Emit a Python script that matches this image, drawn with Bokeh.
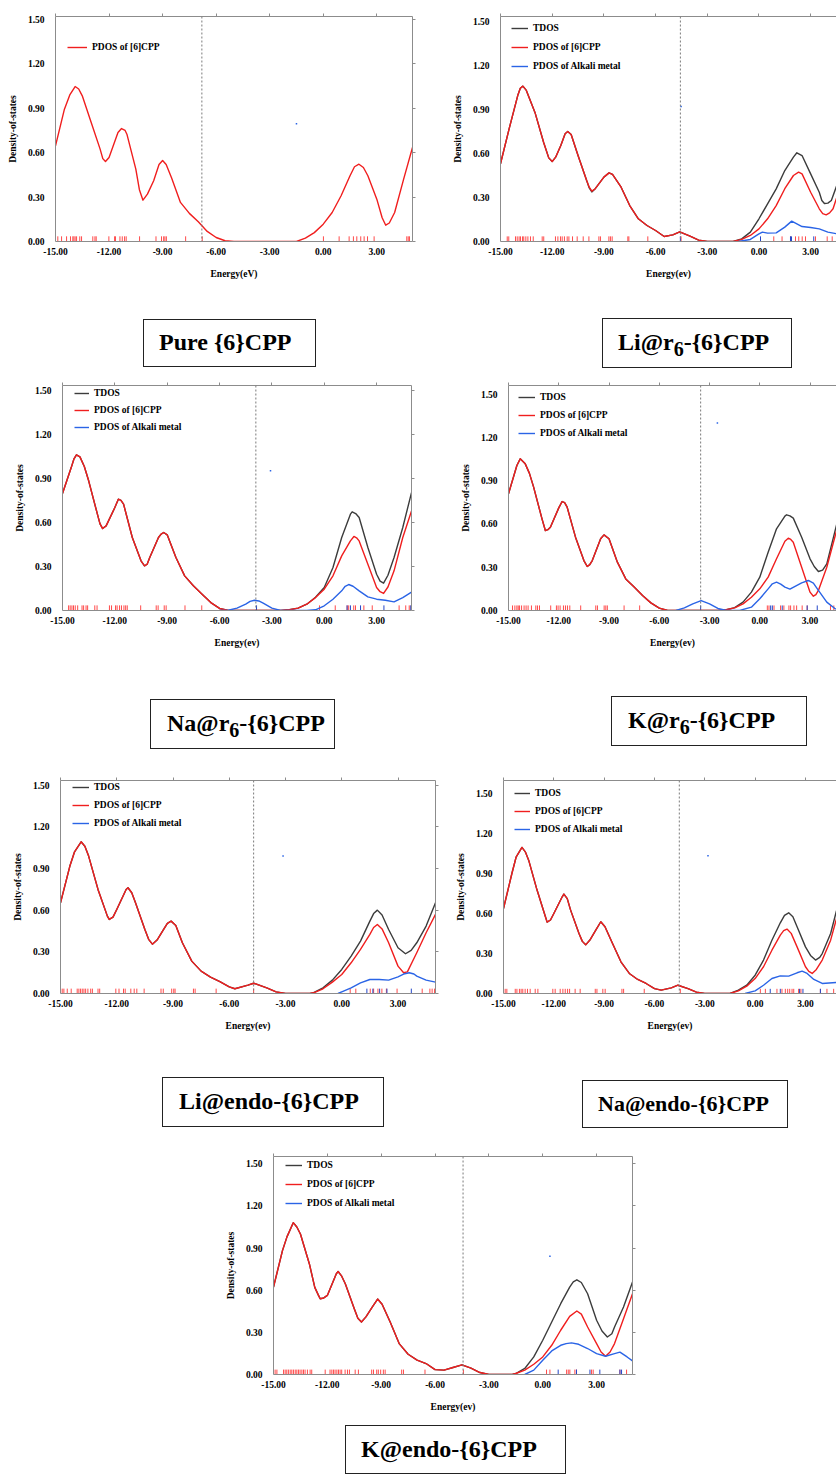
from bokeh.plotting import figure
from bokeh.models import (Range1d, LinearAxis, FixedTicker, NumeralTickFormatter,
                          Span, Legend, LegendItem, Div)
from bokeh.layouts import column, row
from bokeh.embed import file_html
from bokeh.resources import INLINE

# ---------------- data ----------------
XTICKS = [-15, -12, -9, -6, -3, 0, 3]
YTICKS = [0.0, 0.3, 0.6, 0.9, 1.2, 1.5]
LEGEND_NAMES = ["TDOS", "PDOS of [6]CPP", "PDOS of Alkali metal"]
TITLES_HTML = ["Pure {6}CPP", "Li@r<sub>6</sub>-{6}CPP", "Na@r<sub>6</sub>-{6}CPP", "K@r<sub>6</sub>-{6}CPP",
               "Li@endo-{6}CPP", "Na@endo-{6}CPP", "K@endo-{6}CPP"]
XLABELS = ["Energy(eV)", "Energy(ev)", "Energy(ev)", "Energy(ev)", "Energy(ev)", "Energy(ev)", "Energy(ev)"]
HOMO = [-6.8, -4.56, -3.92, -3.53, -4.70, -4.52, -4.44]
DOT_E = [-1.5, -4.52, -3.08, -2.53, -3.13, -2.81, 0.40]
DOT_V = [0.795, 0.92, 0.951, 1.30, 0.989, 1.03, 0.842]

# Panel 1: Pure {6}CPP
P1_RED_E = [-15, -14.5, -14.2, -13.9, -13.7, -13.5, -13, -12.5, -12.35, -12.2, -12, -11.5, -11.3, -11.1, -11, -10.5, -10.3, -10.1, -9.85, -9.5, -9.2, -9, -8.8, -8.5, -8, -7.5, -7, -6.5, -6, -5.5, -5, -1.5, -1, -0.5, 0, 0.5, 1, 1.5, 1.75, 2, 2.25, 2.5, 3, 3.3, 3.5, 3.7, 4, 4.5, 5]
P1_RED_V = [0.646, 0.894, 0.99, 1.047, 1.03, 0.984, 0.804, 0.624, 0.56, 0.54, 0.568, 0.736, 0.763, 0.75, 0.725, 0.489, 0.35, 0.279, 0.32, 0.41, 0.52, 0.547, 0.52, 0.43, 0.264, 0.19, 0.133, 0.068, 0.027, 0.005, 0, 0, 0.023, 0.06, 0.117, 0.196, 0.309, 0.444, 0.505, 0.522, 0.50, 0.444, 0.286, 0.16, 0.11, 0.125, 0.196, 0.42, 0.635]
P1_RUG_RED = [-14.87, -14.66, -14.38, -14.16, -14.03, -13.97, -13.90, -13.82, -13.64, -13.54, -12.91, -12.79, -12.72, -12.01, -11.69, -11.64, -11.39, -11.26, -11.13, -11.04, -10.29, -9.37, -9.06, -8.94, -8.87, -8.79, -7.71, -6.78, 0.01, 0.89, 1.45, 1.69, 1.88, 2.10, 2.29, 2.48, 2.85, 4.68, 4.76, 4.83]

# Panel 2: Li@r6
P2_RED_E = [-15, -14.5, -14, -13.85, -13.7, -13.5, -13, -12.5, -12.2, -12, -11.8, -11.5, -11.25, -11.1, -10.9, -10.5, -10, -9.85, -9.7, -9.5, -9, -8.7, -8.5, -8, -7.5, -7, -6.5, -6, -5.5, -5, -4.6, -4, -3.5, -3, -1.5, -1, -0.5, 0, 0.5, 1, 1.5, 2, 2.3, 2.5, 3, 3.5, 3.7, 3.9, 4.1, 4.3, 4.55]
P2_RED_V = [0.53, 0.768, 0.995, 1.045, 1.059, 1.03, 0.88, 0.677, 0.57, 0.545, 0.575, 0.655, 0.735, 0.75, 0.73, 0.586, 0.416, 0.37, 0.343, 0.36, 0.439, 0.468, 0.457, 0.37, 0.245, 0.155, 0.109, 0.075, 0.034, 0.045, 0.066, 0.036, 0.009, 0, 0, 0.014, 0.041, 0.086, 0.155, 0.245, 0.36, 0.45, 0.473, 0.461, 0.336, 0.223, 0.19, 0.182, 0.195, 0.223, 0.314]
P2_TOT_E = [-15, -14.5, -14, -13.85, -13.7, -13.5, -13, -12.5, -12.2, -12, -11.8, -11.5, -11.25, -11.1, -10.9, -10.5, -10, -9.85, -9.7, -9.5, -9, -8.7, -8.5, -8, -7.5, -7, -6.5, -6, -5.5, -5, -4.6, -4, -3.5, -3, -1.5, -1, -0.5, 0, 0.5, 1, 1.5, 2, 2.2, 2.5, 3, 3.5, 3.65, 3.8, 4.0, 4.2, 4.55]
P2_TOT_V = [0.53, 0.768, 0.995, 1.045, 1.059, 1.03, 0.88, 0.677, 0.57, 0.545, 0.575, 0.655, 0.735, 0.75, 0.73, 0.586, 0.416, 0.365, 0.338, 0.36, 0.439, 0.468, 0.457, 0.37, 0.245, 0.155, 0.109, 0.075, 0.034, 0.045, 0.066, 0.036, 0.009, 0, 0, 0.018, 0.064, 0.155, 0.257, 0.359, 0.484, 0.575, 0.605, 0.586, 0.461, 0.336, 0.28, 0.259, 0.262, 0.28, 0.393]
P2_BLUE_E = [-1.2, -0.5, 0, 0.2, 0.5, 1, 1.5, 1.9, 2.5, 3, 3.5, 4, 4.55]
P2_BLUE_V = [0, 0.014, 0.052, 0.064, 0.057, 0.059, 0.098, 0.139, 0.102, 0.095, 0.086, 0.064, 0.052]
P2_RUG_RED = [-14.61, -14.52, -14.13, -14.03, -13.92, -13.84, -13.72, -13.65, -13.53, -13.41, -13.26, -13.10, -12.58, -12.49, -11.81, -11.67, -11.52, -11.42, -11.29, -11.13, -11.03, -10.82, -10.55, -10.20, -9.87, -9.29, -9.20, -8.71, -8.62, -8.52, -7.61, -7.55, -6.45, -4.52, 0.86, 1.34, 1.83, 2.12, 2.31, 2.51, 2.70, 3.28, 3.96, 4.25]
P2_RUG_BLUE = [-4.56, 0.09, 1.83, 1.89, 3.18]

# Panel 3: Na@r6
P3_RED_E = [-15, -14.5, -14.35, -14.2, -14, -13.75, -13.5, -13, -12.85, -12.7, -12.5, -12, -11.8, -11.65, -11.5, -11, -10.5, -10.3, -10.15, -10, -9.5, -9.35, -9.2, -9, -8.5, -8, -7.5, -7, -6.5, -6, -5.5, -2.5, -2, -1.5, -1, -0.5, 0, 0.5, 1, 1.5, 1.7, 1.85, 2, 2.5, 3, 3.2, 3.4, 3.65, 4, 4.5, 5]
P3_RED_V = [0.797, 0.973, 1.03, 1.06, 1.046, 0.98, 0.883, 0.656, 0.59, 0.558, 0.576, 0.701, 0.758, 0.75, 0.724, 0.497, 0.338, 0.304, 0.315, 0.361, 0.497, 0.52, 0.531, 0.515, 0.361, 0.236, 0.168, 0.111, 0.054, 0.014, 0, 0, 0.005, 0.016, 0.043, 0.088, 0.145, 0.236, 0.372, 0.474, 0.504, 0.495, 0.474, 0.315, 0.157, 0.128, 0.116, 0.16, 0.27, 0.497, 0.678]
P3_TOT_E = [-15, -14.5, -14.35, -14.2, -14, -13.75, -13.5, -13, -12.85, -12.7, -12.5, -12, -11.8, -11.65, -11.5, -11, -10.5, -10.3, -10.15, -10, -9.5, -9.35, -9.2, -9, -8.5, -8, -7.5, -7, -6.5, -6, -5.5, -2.5, -2, -1.5, -1, -0.5, 0, 0.5, 1, 1.5, 1.6, 1.8, 2, 2.5, 3, 3.2, 3.4, 3.65, 4, 4.5, 5]
P3_TOT_V = [0.797, 0.973, 1.03, 1.06, 1.046, 0.98, 0.883, 0.656, 0.59, 0.558, 0.576, 0.701, 0.758, 0.75, 0.724, 0.497, 0.338, 0.304, 0.315, 0.361, 0.497, 0.52, 0.531, 0.515, 0.361, 0.236, 0.168, 0.111, 0.054, 0.014, 0, 0, 0.005, 0.016, 0.043, 0.09, 0.157, 0.293, 0.497, 0.656, 0.672, 0.66, 0.633, 0.429, 0.247, 0.2, 0.186, 0.24, 0.361, 0.565, 0.803]
P3_BLUE_E = [-6, -5.5, -5, -4.5, -4.25, -4, -3.75, -3.5, -3, -2.5, -1, -0.5, 0, 0.5, 1, 1.2, 1.4, 1.65, 2, 2.5, 3, 3.5, 4, 4.5, 5]
P3_BLUE_V = [0, 0.002, 0.016, 0.043, 0.062, 0.07, 0.065, 0.05, 0.016, 0, 0, 0.005, 0.032, 0.077, 0.134, 0.165, 0.177, 0.165, 0.134, 0.093, 0.077, 0.07, 0.059, 0.088, 0.125]
P3_RUG_RED = [-14.65, -14.56, -14.46, -14.37, -14.27, -14.13, -13.88, -13.79, -13.65, -13.56, -13.15, -13.02, -12.31, -12.19, -11.96, -11.87, -11.73, -11.62, -11.48, -11.38, -11.29, -10.52, -9.63, -9.52, -9.17, -9.06, -7.98, -7.02, -0.27, 0.63, 1.31, 1.40, 1.69, 1.79, 2.27, 2.75, 4.29, 4.67, 4.87, 4.98]
P3_RUG_BLUE = [-3.88, 1.31, 1.50, 2.08, 3.42, 4.96]

# Panel 4: K@r6
P4_RED_E = [-15, -14.5, -14.3, -14, -13.75, -13.5, -13, -12.8, -12.65, -12.5, -12, -11.8, -11.65, -11.5, -11, -10.5, -10.3, -10.15, -10, -9.5, -9.3, -9, -8.5, -8, -7.5, -7, -6.5, -6, -5.5, -2.5, -2, -1.5, -1, -0.5, 0, 0.5, 1, 1.5, 1.7, 1.85, 2, 2.5, 3, 3.2, 3.35, 3.5, 4, 4.6]
P4_RED_V = [0.808, 1.005, 1.051, 1.016, 0.95, 0.855, 0.635, 0.554, 0.56, 0.577, 0.711, 0.755, 0.748, 0.716, 0.508, 0.346, 0.305, 0.318, 0.346, 0.497, 0.524, 0.497, 0.335, 0.219, 0.162, 0.104, 0.053, 0.016, 0, 0, 0.005, 0.018, 0.046, 0.092, 0.15, 0.231, 0.358, 0.48, 0.501, 0.492, 0.473, 0.3, 0.127, 0.099, 0.11, 0.139, 0.3, 0.56]
P4_TOT_E = [-15, -14.5, -14.3, -14, -13.75, -13.5, -13, -12.8, -12.65, -12.5, -12, -11.8, -11.65, -11.5, -11, -10.5, -10.3, -10.15, -10, -9.5, -9.3, -9, -8.5, -8, -7.5, -7, -6.5, -6, -5.5, -2.5, -2, -1.5, -1, -0.5, 0, 0.5, 1, 1.5, 1.6, 1.8, 2, 2.5, 3, 3.25, 3.5, 3.75, 4, 4.6]
P4_TOT_V = [0.808, 1.005, 1.051, 1.016, 0.95, 0.855, 0.635, 0.554, 0.56, 0.577, 0.711, 0.755, 0.748, 0.716, 0.508, 0.346, 0.305, 0.318, 0.346, 0.497, 0.524, 0.497, 0.335, 0.219, 0.162, 0.104, 0.053, 0.016, 0, 0, 0.005, 0.02, 0.058, 0.127, 0.231, 0.404, 0.566, 0.654, 0.663, 0.656, 0.64, 0.508, 0.358, 0.305, 0.27, 0.28, 0.323, 0.6]
P4_BLUE_E = [-5, -4.5, -4, -3.5, -3, -2.5, -2, -1.2, -0.5, 0, 0.5, 0.75, 1, 1.25, 1.5, 1.8, 2.5, 2.9, 3.2, 3.5, 4, 4.5, 4.6]
P4_BLUE_V = [0, 0.018, 0.046, 0.069, 0.046, 0.014, 0, 0, 0.023, 0.081, 0.15, 0.185, 0.196, 0.183, 0.162, 0.148, 0.192, 0.208, 0.19, 0.139, 0.058, 0.012, 0.01]
P4_RUG_RED = [-14.76, -14.62, -14.50, -14.42, -14.34, -14.22, -14.07, -13.95, -13.83, -13.63, -13.37, -13.27, -13.15, -12.48, -12.14, -12.04, -11.92, -11.72, -11.60, -11.48, -11.34, -10.69, -9.79, -9.69, -9.29, -9.19, -9.10, -8.10, -7.17, 0.45, 0.55, 0.85, 1.24, 1.44, 1.74, 1.84, 2.04, 2.20, 2.53, 2.83, 4.22, 4.42]
P4_RUG_BLUE = [-3.53, 0.65, 0.75, 1.34, 2.83, 3.43]

# Panel 5: Li@endo
P5_RED_E = [-15, -14.5, -14.25, -13.9, -13.7, -13.5, -13, -12.5, -12.4, -12.2, -12, -11.5, -11.4, -11.2, -11, -10.5, -10.3, -10.1, -9.85, -9.5, -9.3, -9.1, -8.85, -8.5, -8, -7.5, -7, -6.5, -6, -5.7, -5, -4.7, -4, -3.5, -3, -1.7, -1.5, -1, -0.5, 0, 0.5, 1, 1.5, 1.7, 1.9, 2.15, 2.5, 3, 3.3, 3.5, 4, 4.5, 5]
P5_RED_V = [0.653, 0.917, 1.02, 1.092, 1.06, 0.989, 0.749, 0.557, 0.533, 0.55, 0.605, 0.749, 0.761, 0.725, 0.653, 0.461, 0.39, 0.355, 0.385, 0.461, 0.505, 0.521, 0.49, 0.365, 0.233, 0.161, 0.118, 0.086, 0.048, 0.034, 0.06, 0.074, 0.041, 0.012, 0, 0, 0.005, 0.034, 0.082, 0.137, 0.221, 0.317, 0.425, 0.475, 0.497, 0.465, 0.365, 0.197, 0.149, 0.156, 0.293, 0.437, 0.569]
P5_TOT_E = [-15, -14.5, -14.25, -13.9, -13.7, -13.5, -13, -12.5, -12.4, -12.2, -12, -11.5, -11.4, -11.2, -11, -10.5, -10.3, -10.1, -9.85, -9.5, -9.3, -9.1, -8.85, -8.5, -8, -7.5, -7, -6.5, -6, -5.7, -5, -4.7, -4, -3.5, -3, -1.7, -1.5, -1, -0.5, 0, 0.5, 1, 1.5, 1.7, 1.9, 2.15, 2.5, 3, 3.4, 3.7, 4, 4.5, 5]
P5_TOT_V = [0.653, 0.917, 1.02, 1.092, 1.06, 0.989, 0.749, 0.557, 0.533, 0.55, 0.605, 0.749, 0.761, 0.725, 0.653, 0.461, 0.39, 0.355, 0.385, 0.461, 0.505, 0.521, 0.49, 0.365, 0.233, 0.161, 0.118, 0.086, 0.048, 0.034, 0.06, 0.074, 0.041, 0.012, 0, 0, 0.006, 0.041, 0.096, 0.173, 0.269, 0.377, 0.521, 0.575, 0.6, 0.565, 0.461, 0.329, 0.286, 0.31, 0.365, 0.485, 0.653]
P5_BLUE_E = [-0.2, 0, 0.5, 1, 1.5, 2, 2.5, 3, 3.3, 3.6, 3.85, 4, 4.5, 5]
P5_BLUE_V = [0, 0.012, 0.041, 0.077, 0.101, 0.101, 0.096, 0.12, 0.14, 0.149, 0.14, 0.125, 0.096, 0.082]
P5_RUG_RED = [-14.91, -14.82, -14.64, -14.43, -14.11, -14.02, -13.93, -13.84, -13.75, -13.66, -13.54, -13.39, -13.30, -13.00, -12.91, -12.05, -11.88, -11.64, -11.55, -11.25, -11.07, -10.93, -10.54, -9.64, -9.52, -9.07, -8.96, -8.89, -7.91, -7.82, -6.70, -4.70, 0.45, 0.75, 1.52, 1.70, 1.93, 2.14, 2.38, 2.95, 4.29, 4.70, 4.82, 4.95]
P5_RUG_BLUE = [1.34, 1.66, 2.02, 2.41, 3.71]

# Panel 6: Na@endo
P6_RED_E = [-15, -14.5, -14.25, -13.9, -13.7, -13.5, -13, -12.5, -12.4, -12.2, -12, -11.5, -11.4, -11.2, -11, -10.5, -10.3, -10.1, -9.85, -9.5, -9.2, -8.95, -8.5, -8, -7.5, -7, -6.5, -6, -5.6, -5, -4.6, -4, -3.5, -3, -1.5, -1, -0.5, 0, 0.5, 1, 1.5, 1.7, 1.9, 2.15, 2.5, 3, 3.2, 3.4, 3.65, 4, 4.5, 4.85]
P6_RED_V = [0.636, 0.898, 1.02, 1.093, 1.06, 0.998, 0.774, 0.574, 0.534, 0.55, 0.599, 0.724, 0.744, 0.71, 0.624, 0.449, 0.39, 0.364, 0.4, 0.474, 0.537, 0.5, 0.374, 0.237, 0.15, 0.105, 0.075, 0.037, 0.025, 0.042, 0.062, 0.037, 0.01, 0, 0, 0.02, 0.055, 0.112, 0.2, 0.324, 0.437, 0.47, 0.482, 0.45, 0.349, 0.2, 0.165, 0.15, 0.18, 0.25, 0.399, 0.56]
P6_TOT_E = [-15, -14.5, -14.25, -13.9, -13.7, -13.5, -13, -12.5, -12.4, -12.2, -12, -11.5, -11.4, -11.2, -11, -10.5, -10.3, -10.1, -9.85, -9.5, -9.2, -8.95, -8.5, -8, -7.5, -7, -6.5, -6, -5.6, -5, -4.6, -4, -3.5, -3, -1.5, -1, -0.5, 0, 0.5, 1, 1.5, 1.75, 2, 2.25, 2.5, 3, 3.3, 3.6, 3.85, 4, 4.5, 4.85]
P6_TOT_V = [0.636, 0.898, 1.02, 1.093, 1.06, 0.998, 0.774, 0.574, 0.534, 0.55, 0.599, 0.724, 0.744, 0.71, 0.624, 0.449, 0.39, 0.364, 0.4, 0.474, 0.537, 0.5, 0.374, 0.237, 0.15, 0.105, 0.075, 0.037, 0.025, 0.042, 0.062, 0.037, 0.01, 0, 0, 0.025, 0.062, 0.137, 0.25, 0.399, 0.529, 0.585, 0.604, 0.575, 0.499, 0.349, 0.285, 0.25, 0.27, 0.299, 0.449, 0.62]
P6_BLUE_E = [-0.6, 0, 0.5, 1, 1.5, 2, 2.5, 2.8, 3.1, 3.5, 4, 4.85]
P6_BLUE_V = [0, 0.02, 0.062, 0.112, 0.132, 0.13, 0.155, 0.167, 0.15, 0.105, 0.075, 0.082]
P6_RUG_RED = [-14.90, -14.80, -14.30, -14.20, -14.05, -13.95, -13.85, -13.71, -13.57, -13.41, -13.11, -12.95, -12.06, -11.92, -11.62, -11.46, -11.32, -11.18, -11.06, -10.73, -10.43, -9.53, -9.43, -9.08, -8.94, -7.94, -7.84, -6.61, -4.46, 0.31, 0.61, 1.30, 1.60, 1.80, 1.94, 2.06, 2.20, 2.30, 2.59, 2.73, 3.89, 4.28, 4.68]
P6_RUG_BLUE = [0.90, 1.50, 2.65, 2.85, 3.89]

# Panel 7: K@endo
P7_RED_E = [-15, -14.5, -14.25, -13.9, -13.7, -13.5, -13, -12.7, -12.5, -12.4, -12.2, -12, -11.5, -11.4, -11.2, -11, -10.5, -10.3, -10.1, -9.85, -9.5, -9.2, -8.95, -8.5, -8, -7.5, -7, -6.5, -6, -5.5, -5, -4.5, -4, -3.5, -3, -1.7, -1.5, -1, -0.5, 0, 0.5, 1, 1.5, 1.9, 2.15, 2.5, 3, 3.25, 3.5, 3.75, 4, 4.5, 5]
P7_RED_V = [0.622, 0.882, 0.98, 1.081, 1.05, 1.0, 0.787, 0.62, 0.565, 0.539, 0.545, 0.563, 0.717, 0.733, 0.70, 0.646, 0.468, 0.4, 0.374, 0.41, 0.48, 0.537, 0.5, 0.374, 0.22, 0.144, 0.102, 0.078, 0.035, 0.031, 0.05, 0.069, 0.045, 0.014, 0, 0, 0.007, 0.031, 0.073, 0.125, 0.208, 0.315, 0.414, 0.452, 0.43, 0.338, 0.22, 0.16, 0.13, 0.16, 0.22, 0.397, 0.575]
P7_TOT_E = [-15, -14.5, -14.25, -13.9, -13.7, -13.5, -13, -12.7, -12.5, -12.4, -12.2, -12, -11.5, -11.4, -11.2, -11, -10.5, -10.3, -10.1, -9.85, -9.5, -9.2, -8.95, -8.5, -8, -7.5, -7, -6.5, -6, -5.5, -5, -4.5, -4, -3.5, -3, -1.7, -1.5, -1, -0.5, 0, 0.5, 1, 1.5, 1.7, 1.9, 2.15, 2.5, 3, 3.3, 3.6, 3.85, 4, 4.5, 5]
P7_TOT_V = [0.622, 0.882, 0.98, 1.081, 1.05, 1.0, 0.787, 0.62, 0.565, 0.539, 0.545, 0.563, 0.717, 0.733, 0.70, 0.646, 0.468, 0.4, 0.374, 0.41, 0.48, 0.537, 0.5, 0.374, 0.22, 0.144, 0.102, 0.078, 0.035, 0.031, 0.05, 0.069, 0.045, 0.014, 0, 0, 0.007, 0.043, 0.125, 0.244, 0.374, 0.504, 0.622, 0.66, 0.674, 0.655, 0.575, 0.386, 0.31, 0.267, 0.29, 0.338, 0.48, 0.658]
P7_BLUE_E = [-1, -0.5, 0, 0.5, 1, 1.3, 1.6, 2, 2.5, 3, 3.5, 4, 4.3, 4.7, 5]
P7_BLUE_V = [0, 0.031, 0.102, 0.168, 0.208, 0.22, 0.225, 0.215, 0.185, 0.149, 0.13, 0.149, 0.159, 0.125, 0.097]
P7_RUG_RED = [-14.91, -14.81, -14.44, -14.35, -14.26, -14.17, -14.07, -13.98, -13.89, -13.79, -13.70, -13.61, -13.52, -13.42, -13.33, -13.24, -13.11, -12.96, -12.87, -12.12, -11.85, -11.75, -11.66, -11.57, -11.47, -11.38, -11.29, -11.20, -11.01, -10.88, -10.77, -10.45, -10.27, -9.53, -9.43, -9.25, -9.16, -9.03, -8.88, -8.78, -7.86, -7.76, -6.56, -4.42, 0.21, 0.40, 1.33, 1.42, 1.51, 1.79, 1.88, 2.72, 2.81, 4.30, 4.67]
P7_RUG_BLUE = [0.86, 1.88, 2.63, 3.18, 4.30, 4.39]

# ---------------- style ----------------
FONT = "Liberation Serif"
RED = "#f01e1e"
BLACK = "#3c3c3c"
BLUE = "#2a64e6"
AXIS_GRAY = "#8c8c8c"
RUG_H = 0.035

SERIES = [
    dict(tot=None, red=(P1_RED_E, P1_RED_V), blue=None, rug_r=P1_RUG_RED, rug_b=[]),
    dict(tot=(P2_TOT_E, P2_TOT_V), red=(P2_RED_E, P2_RED_V), blue=(P2_BLUE_E, P2_BLUE_V), rug_r=P2_RUG_RED, rug_b=P2_RUG_BLUE),
    dict(tot=(P3_TOT_E, P3_TOT_V), red=(P3_RED_E, P3_RED_V), blue=(P3_BLUE_E, P3_BLUE_V), rug_r=P3_RUG_RED, rug_b=P3_RUG_BLUE),
    dict(tot=(P4_TOT_E, P4_TOT_V), red=(P4_RED_E, P4_RED_V), blue=(P4_BLUE_E, P4_BLUE_V), rug_r=P4_RUG_RED, rug_b=P4_RUG_BLUE),
    dict(tot=(P5_TOT_E, P5_TOT_V), red=(P5_RED_E, P5_RED_V), blue=(P5_BLUE_E, P5_BLUE_V), rug_r=P5_RUG_RED, rug_b=P5_RUG_BLUE),
    dict(tot=(P6_TOT_E, P6_TOT_V), red=(P6_RED_E, P6_RED_V), blue=(P6_BLUE_E, P6_BLUE_V), rug_r=P6_RUG_RED, rug_b=P6_RUG_BLUE),
    dict(tot=(P7_TOT_E, P7_TOT_V), red=(P7_RED_E, P7_RED_V), blue=(P7_BLUE_E, P7_BLUE_V), rug_r=P7_RUG_RED, rug_b=P7_RUG_BLUE),
]

# geometry: figure size, min borders (L,R,T,B), x end, y max, right edge line,
# legend (x offset, top offset, spacing, glyph width)
GEOM = [
    dict(size=(440, 300), border=(55, 28, 16, 59), xend=5.0, ymax=1.52, right=True, leg=(12, 25, 6, 20)),
    dict(size=(396, 300), border=(60, 0, 16, 59), xend=4.5, ymax=1.534, right=False, leg=(11, 6, 7, 17)),
    dict(size=(445, 305), border=(62, 34, 10, 70), xend=5.0, ymax=1.532, right=True, leg=(12, 2, 5, 15)),
    dict(size=(391, 305), border=(63, 0, 10, 70), xend=4.58, ymax=1.559, right=False, leg=(10, 6, 6, 17)),
    dict(size=(448, 290), border=(60, 13, 20, 57), xend=5.0, ymax=1.533, right=True, leg=(12, 1, 6, 17)),
    dict(size=(388, 290), border=(55, 0, 20, 57), xend=4.85, ymax=1.594, right=False, leg=(11, 7, 6, 16)),
    dict(size=(836, 275), border=(273, 204, 16, 41), xend=5.0, ymax=1.552, right=True, leg=(12, 3, 7, 17)),
]

# title boxes: strip height, then per box (left, top, width, height, text left pad, font px, title index)
STRIPS = [
    (75, [(143, 19, 173, 48, 15, 24, 0), (602, 18, 190, 50, 15, 24, 1)]),
    (80, [(150, 19, 185, 50, 16, 24, 2), (611, 16, 196, 50, 16, 24, 3)]),
    (90, [(162, 27, 222, 50, 16, 24, 4), (582, 30, 206, 48, 15, 22, 5)]),
    (60, [(345, 10, 221, 49, 15, 24, 6)]),
]


def base_axis(ax):
    ax.axis_line_color = AXIS_GRAY
    ax.axis_line_width = 1
    ax.major_tick_line_color = AXIS_GRAY
    ax.minor_tick_line_color = AXIS_GRAY
    ax.minor_tick_in = 0
    ax.minor_tick_out = 0
    ax.major_tick_in = 0
    ax.major_tick_out = 0
    ax.major_label_text_font = FONT
    ax.major_label_text_font_style = "bold"
    ax.major_label_text_font_size = "9.5px"
    ax.major_label_text_color = "black"
    ax.axis_label_text_font = FONT
    ax.axis_label_text_font_style = "bold"
    ax.axis_label_text_font_size = "9.5px"
    ax.axis_label_text_color = "black"


def make_panel(i):
    g = GEOM[i]
    s = SERIES[i]
    W, H = g["size"]
    L, R, T, B = g["border"]
    p = figure(width=W, height=H, output_backend="svg", toolbar_location=None,
               x_axis_type=None, y_axis_type=None,
               x_range=Range1d(-15, g["xend"]), y_range=Range1d(0, g["ymax"]),
               min_border_left=L, min_border_right=R, min_border_top=T, min_border_bottom=B,
               outline_line_color=None, background_fill_color="white",
               border_fill_color="white")

    xb = LinearAxis(ticker=FixedTicker(ticks=XTICKS), formatter=NumeralTickFormatter(format="0.00"),
                    axis_label=XLABELS[i])
    base_axis(xb)
    xb.major_label_standoff = 6
    xb.axis_label_standoff = 11
    p.add_layout(xb, "below")

    yl = LinearAxis(ticker=FixedTicker(ticks=YTICKS), formatter=NumeralTickFormatter(format="0.00"),
                    axis_label="Density-of-states")
    base_axis(yl)
    yl.major_label_standoff = 11
    yl.axis_label_standoff = 7
    p.add_layout(yl, "left")

    # frame edges with small outward ticks (minor ticks only: no labels)
    xt = LinearAxis(ticker=FixedTicker(ticks=[], minor_ticks=XTICKS))
    base_axis(xt)
    xt.minor_tick_out = 3
    p.add_layout(xt, "above")
    if g["right"]:
        yr = LinearAxis(ticker=FixedTicker(ticks=[], minor_ticks=YTICKS))
        base_axis(yr)
        yr.minor_tick_out = 3
        p.add_layout(yr, "right")

    p.add_layout(Span(location=HOMO[i], dimension="height", line_color="#7a7a7a",
                      line_dash="2 2", line_width=1))

    # stick spectrum
    p.segment(x0=s["rug_r"], y0=0, x1=s["rug_r"], y1=RUG_H, line_color="#ff4a4a", line_width=1)
    if s["rug_b"]:
        p.segment(x0=s["rug_b"], y0=0, x1=s["rug_b"], y1=RUG_H, line_color="#2446c8", line_width=1)

    items = []
    if s["tot"] is not None:
        rt = p.line(s["tot"][0], s["tot"][1], line_color=BLACK, line_width=1.4, line_join="round")
        items.append(LegendItem(label=LEGEND_NAMES[0], renderers=[rt]))
    rr = p.line(s["red"][0], s["red"][1], line_color=RED, line_width=1.4, line_join="round")
    items.append(LegendItem(label=LEGEND_NAMES[1], renderers=[rr]))
    if s["blue"] is not None:
        rb = p.line(s["blue"][0], s["blue"][1], line_color=BLUE, line_width=1.4, line_join="round")
        items.append(LegendItem(label=LEGEND_NAMES[2], renderers=[rb]))

    p.scatter([DOT_E[i]], [DOT_V[i]], marker="square", size=1.5, color=BLUE, line_color=None)

    lx, ltop, lsp, gw = g["leg"]
    n = len(items)
    leg_h = n * 12 + (n - 1) * lsp
    frame_h = H - T - B
    legend = Legend(items=items, location=(lx, frame_h - ltop - leg_h), padding=0, margin=0,
                    spacing=lsp, glyph_width=gw, glyph_height=12, label_height=12,
                    label_standoff=5, label_text_font=FONT, label_text_font_style="bold",
                    label_text_font_size="9.5px", label_text_color="black",
                    border_line_color=None, background_fill_alpha=0)
    p.add_layout(legend)
    return p


def make_strip(k):
    h, boxes = STRIPS[k]
    parts = []
    for (bl, bt, bw, bh, pad, fs, ti) in boxes:
        parts.append(
            f'<div style="position:absolute;left:{bl}px;top:{bt}px;width:{bw}px;height:{bh}px;'
            f'box-sizing:border-box;border:1.3px solid #222;background:#fff;padding-left:{pad}px;'
            f'font-family:\'Liberation Serif\',serif;font-weight:bold;font-size:{fs}px;color:#000;'
            f'line-height:{bh - 3}px;white-space:nowrap;">{TITLES_HTML[ti]}</div>')
    html = (f'<div style="position:relative;width:836px;height:{h}px;overflow:visible;">'
            + "".join(parts) + "</div>")
    return Div(text=html, width=836, height=h, margin=0)


panels = [make_panel(i) for i in range(7)]
strips = [make_strip(k) for k in range(4)]
layout = column(row(panels[0], panels[1]), strips[0],
                row(panels[2], panels[3]), strips[1],
                row(panels[4], panels[5]), strips[2],
                panels[6], strips[3])

open("out.html", "w").write(file_html(layout, INLINE))
